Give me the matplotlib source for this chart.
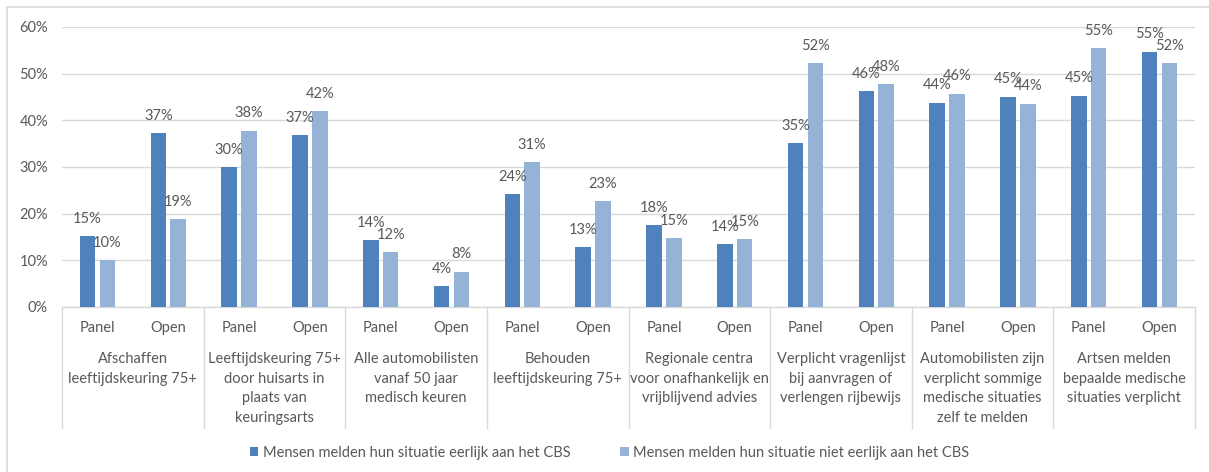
import matplotlib
matplotlib.use("Agg")
import matplotlib.pyplot as plt
from matplotlib.patches import Rectangle, Patch
from matplotlib.lines import Line2D
import numpy as np

plt.rcParams['font.family'] = ['Lato', 'DejaVu Sans']

groups = [
    "Afschaffen\nleeftijdskeuring 75+",
    "Leeftijdskeuring 75+\ndoor huisarts in\nplaats van\nkeuringsarts",
    "Alle automobilisten\nvanaf 50 jaar\nmedisch keuren",
    "Behouden\nleeftijdskeuring 75+",
    "Regionale centra\nvoor onafhankelijk en\nvrijblijvend advies",
    "Verplicht vragenlijst\nbij aanvragen of\nverlengen rijbewijs",
    "Automobilisten zijn\nverplicht sommige\nmedische situaties\nzelf te melden",
    "Artsen melden\nbepaalde medische\nsituaties verplicht",
]
subcats = ["Panel", "Open"]
series_names = ["Mensen melden hun situatie eerlijk aan het CBS",
                "Mensen melden hun situatie niet eerlijk aan het CBS"]
eerlijk = [0.152, 0.372, 0.299, 0.368, 0.143, 0.044, 0.242, 0.128,
           0.176, 0.135, 0.351, 0.463, 0.438, 0.451, 0.453, 0.547]
niet_eerlijk = [0.101, 0.188, 0.378, 0.420, 0.118, 0.076, 0.310, 0.227,
                0.148, 0.146, 0.522, 0.477, 0.457, 0.436, 0.554, 0.522]
yticks = [0, 0.1, 0.2, 0.3, 0.4, 0.5, 0.6]

W, H = 1209, 472
fig = plt.figure(figsize=(W / 100, H / 100), dpi=100)
L, R, T, B = 62, 1195, 27, 307
ax = fig.add_axes([L / W, (H - B) / H, (R - L) / W, (B - T) / H])

dark = "#4F81BD"
light = "#95B3D7"
txt = "#595959"
grid = "#D9D9D9"
fs = 10.5

n = len(eerlijk)
x = np.arange(n)
bw = 0.22
off = 0.14
b1 = ax.bar(x - off, eerlijk, bw, color=dark, zorder=3)
b2 = ax.bar(x + off, niet_eerlijk, bw, color=light, zorder=3)

for bars, vals in ((b1, eerlijk), (b2, niet_eerlijk)):
    for rect, v in zip(bars, vals):
        ax.annotate(f"{round(v * 100):d}%",
                    (rect.get_x() + rect.get_width() / 2, v),
                    xytext=(0, 12.5), textcoords="offset points",
                    ha="center", va="center", fontsize=fs, color=txt, zorder=4)

ax.set_xlim(-0.5, n - 0.5)
ax.set_ylim(0, 0.6)
ax.set_yticks(yticks)
ax.set_yticklabels([f"{int(round(t * 100))}%" for t in yticks], fontsize=fs, color=txt)
ax.tick_params(axis="y", length=0, pad=10)
ax.set_xticks([])
for s in ["top", "right", "left"]:
    ax.spines[s].set_visible(False)
ax.spines["bottom"].set_color(grid)
ax.spines["bottom"].set_linewidth(1)
ax.grid(axis="y", color=grid, linewidth=1, zorder=0)
ax.set_axisbelow(True)

ah = B - T
def yfrac(py):
    return (B - py) / ah

trans = ax.get_xaxis_transform()
for i in range(n):
    ax.text(x[i], yfrac(328), subcats[i % 2], transform=trans, ha="center",
            va="center", fontsize=fs, color=txt)
for g, lab in enumerate(groups):
    cx = 2 * g + 0.5
    for k, line in enumerate(lab.split("\n")):
        ax.text(cx, yfrac(359 + 19.7 * k), line, transform=trans, ha="center",
                va="center", fontsize=fs, color=txt)
for g in range(len(groups) + 1):
    xs = 2 * g - 0.5
    ax.add_line(Line2D([xs, xs], [0, yfrac(428)], transform=trans, color=grid,
                       linewidth=1, clip_on=False))

handles = [Patch(facecolor=dark), Patch(facecolor=light)]
fig.legend(handles, series_names, loc="center", bbox_to_anchor=(0.504, (H - 453) / H),
           ncol=2, frameon=False, fontsize=fs, labelcolor=txt,
           handlelength=0.6, handleheight=0.6, handletextpad=0.3, columnspacing=3.4)

fig.add_artist(Rectangle((7 / W, -0.1), 1.2, (H - 7) / H + 0.1, transform=fig.transFigure,
                         fill=False, edgecolor=grid, linewidth=1.2))

fig.savefig("out.png", dpi=100)
